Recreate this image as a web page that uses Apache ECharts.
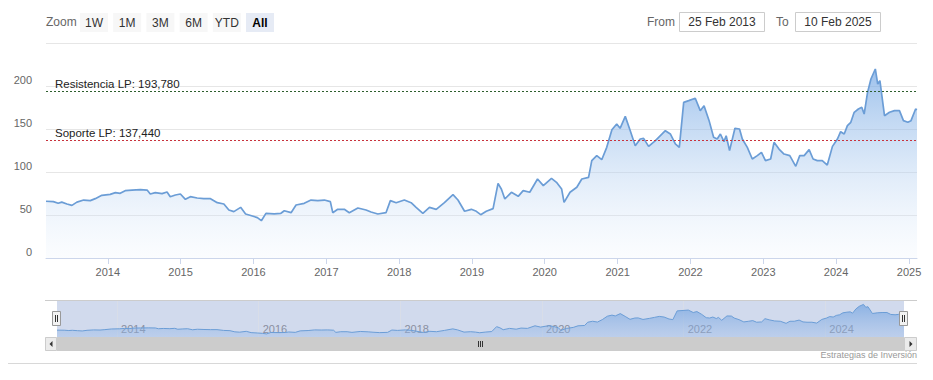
<!DOCTYPE html>
<html>
<head>
<meta charset="utf-8">
<script src="https://cdn.jsdelivr.net/npm/echarts@6/dist/echarts.min.js"></script>
<style>
html,body{margin:0;padding:0;background:#fff;}
#chart{width:933px;height:380px;}
</style>
</head>
<body>
<div id="chart"></div>
<script>
// ---- data ----
const dates = [
'2013-02-25','2013-04-03','2013-04-27','2013-05-15','2013-06-10','2013-07-05','2013-07-30','2013-09-02','2013-10-05','2013-10-30','2013-12-02',
'2014-01-13','2014-02-08','2014-03-04','2014-03-29','2014-05-02','2014-06-13','2014-07-17','2014-08-02','2014-08-27','2014-09-30','2014-10-25','2014-11-10','2014-12-06','2014-12-31',
'2015-01-25','2015-02-19','2015-03-25','2015-04-27','2015-05-31','2015-07-04','2015-08-06','2015-08-31','2015-09-25','2015-10-29','2015-11-23','2015-12-27',
'2016-01-21','2016-02-10','2016-03-04','2016-04-14','2016-05-18','2016-06-04','2016-07-08','2016-08-02','2016-09-12','2016-10-16','2016-11-19','2016-12-22',
'2017-01-21','2017-02-02','2017-02-27','2017-04-01','2017-04-26','2017-06-08','2017-07-19','2017-08-13','2017-09-16','2017-10-27','2017-11-18','2017-12-17',
'2018-01-27','2018-03-02','2018-03-27','2018-04-30','2018-06-02','2018-07-06','2018-08-16','2018-09-28','2018-10-23','2018-11-25','2018-12-29',
'2019-01-23','2019-02-14','2019-03-14','2019-04-17','2019-05-12','2019-05-29','2019-06-15','2019-07-18','2019-08-21','2019-09-15','2019-10-18','2019-11-26','2019-12-25',
'2020-02-04','2020-02-29','2020-03-26','2020-04-07','2020-05-07','2020-06-10','2020-07-05','2020-08-08','2020-08-24','2020-09-18','2020-10-13','2020-11-07','2020-12-03','2020-12-27',
'2021-01-13','2021-02-08','2021-03-05','2021-03-30','2021-04-24','2021-05-11','2021-06-05','2021-07-09','2021-08-03','2021-08-28','2021-09-22','2021-10-17','2021-11-06','2021-11-28','2021-12-23',
'2022-01-25','2022-02-19','2022-03-10','2022-04-04','2022-04-27','2022-05-15','2022-05-31','2022-06-18','2022-06-29','2022-07-16','2022-08-12','2022-09-04','2022-09-18','2022-10-13','2022-11-07','2022-12-02','2022-12-23',
'2023-01-12','2023-02-07','2023-02-24','2023-03-21','2023-04-15','2023-05-14','2023-06-13','2023-07-03','2023-07-25','2023-08-19','2023-09-08','2023-09-29','2023-10-24','2023-11-18','2023-12-14',
'2024-01-08','2024-01-24','2024-02-11','2024-02-27','2024-03-15','2024-04-01','2024-04-22','2024-05-09','2024-05-21','2024-06-07','2024-06-24','2024-07-16','2024-07-28','2024-08-08','2024-08-31','2024-09-25','2024-10-20','2024-11-14','2024-12-04','2024-12-26',
'2025-01-11','2025-02-03','2025-02-10'
];
const values = [
66,65.5,63.6,65,62.8,61.2,65,67.4,66.7,69,72.9,
74,76,75.2,78.3,79,79.5,79,74.4,76,74.8,76.7,71.3,73.3,74.4,
68.2,71.3,69.8,69,69,64.3,62.8,55.8,53.9,58.9,51.2,48.8,
46.9,43.4,51.9,51.2,52,55,52.7,61.6,63.6,67.4,66.7,67.4,
65.5,52.7,56.6,56.6,52.7,58.1,55.8,53.5,51.2,52.7,66.7,64.3,
67.4,64.3,58.9,52,58.9,56.6,64.3,73.6,67.4,54.3,56.6,
54.3,50.4,54.3,57.4,86.8,80,68.6,76.4,71.7,78.3,76.4,91.9,84.1,
92.6,88,80.2,64.7,76.4,82.2,91.9,93.8,113.2,119,114.3,128.7,149.2,155.8,
150.8,164.7,148,130.6,138.4,139.1,129.8,136.4,142.2,148,144.2,132.6,128.7,181,183,
185.7,171.3,177,160,140.3,138.4,144.2,135.3,142.2,124.8,150.8,150,138.4,128.7,115.1,119,122.9,
113.2,115.1,134.5,126.7,120.9,119,106.6,119,119,126,115.1,113.2,113.2,108.1,129.8,
138.4,146.9,144.2,153.9,157.8,169.4,173.3,175.2,167.4,192.6,208.1,219.8,202.3,206.2,165.5,169.4,171.3,171.3,159.7,157.8,
159.7,173.3,172.5
];
const resistanceLabel = 'Resistencia LP: 193,780';
const resistanceValue = 193.78;
const supportLabel = 'Soporte LP: 137,440';
const supportValue = 137.44;
const xYearTicks = [2014,2015,2016,2017,2018,2019,2020,2021,2022,2023,2024,2025];
const navYearTicks = [2014,2016,2018,2020,2022,2024];
const rangeButtons = ['1W','1M','3M','6M','YTD','All'];
const selectedButton = 'All';
const fromDate = '25 Feb 2013';
const toDate = '10 Feb 2025';
const creditText = 'Estrategias de Inversión';
const startDate = '2013-02-25';
const endDate = '2025-02-10';

// ---- chart ----
const FONT = '"Liberation Sans", Arial, sans-serif';
const chart = echarts.init(document.getElementById('chart'), null, {renderer: 'svg'});
const ts = d => new Date(d + 'T00:00:00').getTime();
const yearTs = y => new Date(y, 0, 1).getTime();
const seriesData = dates.map((d, i) => [ts(d), values[i]]);
const yearFmt = v => String(new Date(v).getFullYear());

const graphics = [];
// range selector
graphics.push({type: 'text', x: 46, y: 22, style: {text: 'Zoom', fill: '#666', font: '12px ' + FONT, verticalAlign: 'middle'}});
rangeButtons.forEach((b, i) => {
  const x = 80 + i * 33.2;
  const sel = b === selectedButton;
  graphics.push({type: 'rect', shape: {x: x, y: 13, width: 28, height: 19},
    style: {fill: sel ? '#e6ebf5' : '#f7f7f7'}});
  graphics.push({type: 'text', x: x + 14, y: 22.5,
    style: {text: b, fill: sel ? '#000' : '#333', font: (sel ? 'bold ' : '') + '12px ' + FONT, align: 'center', verticalAlign: 'middle'}});
});
graphics.push({type: 'text', x: 647, y: 22, style: {text: 'From', fill: '#666', font: '12px ' + FONT, verticalAlign: 'middle'}});
graphics.push({type: 'rect', shape: {x: 679.5, y: 12.5, width: 85, height: 19}, style: {fill: '#fff', stroke: '#cccccc', lineWidth: 1}});
graphics.push({type: 'text', x: 722, y: 22, style: {text: fromDate, fill: '#333', font: '12px ' + FONT, align: 'center', verticalAlign: 'middle'}});
graphics.push({type: 'text', x: 776, y: 22, style: {text: 'To', fill: '#666', font: '12px ' + FONT, verticalAlign: 'middle'}});
graphics.push({type: 'rect', shape: {x: 795.5, y: 12.5, width: 85, height: 19}, style: {fill: '#fff', stroke: '#cccccc', lineWidth: 1}});
graphics.push({type: 'text', x: 838, y: 22, style: {text: toDate, fill: '#333', font: '12px ' + FONT, align: 'center', verticalAlign: 'middle'}});

// navigator mask + outline
graphics.push({type: 'rect', z: -1, shape: {x: 57, y: 301, width: 847, height: 36}, style: {fill: 'rgba(102,133,194,0.3)'}});
graphics.push({type: 'line', z: 10, shape: {x1: 45, y1: 300.5, x2: 917, y2: 300.5}, style: {stroke: '#cccccc', lineWidth: 1}});
// handles
[57, 904].forEach(cx => {
  graphics.push({type: 'rect', z: 20, shape: {x: cx - 4.5, y: 311.5, width: 8, height: 14}, style: {fill: '#f2f2f2', stroke: '#999', lineWidth: 1}});
  graphics.push({type: 'line', z: 21, shape: {x1: cx - 1.5, y1: 315, x2: cx - 1.5, y2: 322}, style: {stroke: '#333', lineWidth: 1}});
  graphics.push({type: 'line', z: 21, shape: {x1: cx + 0.5, y1: 315, x2: cx + 0.5, y2: 322}, style: {stroke: '#333', lineWidth: 1}});
});
// scrollbar
graphics.push({type: 'rect', z: 5, shape: {x: 45, y: 337, width: 872, height: 14}, style: {fill: '#f2f2f2'}});
graphics.push({type: 'rect', z: 6, shape: {x: 57, y: 337, width: 847, height: 14}, style: {fill: '#cccccc'}});
graphics.push({type: 'rect', z: 6, shape: {x: 45.5, y: 337.5, width: 11, height: 13}, style: {fill: '#ebebeb', stroke: '#cccccc', lineWidth: 1}});
graphics.push({type: 'rect', z: 6, shape: {x: 904.5, y: 337.5, width: 12, height: 13}, style: {fill: '#ebebeb', stroke: '#cccccc', lineWidth: 1}});
graphics.push({type: 'polygon', z: 7, shape: {points: [[52.5, 341], [52.5, 347], [49.5, 344]]}, style: {fill: '#333'}});
graphics.push({type: 'polygon', z: 7, shape: {points: [[909.5, 341], [909.5, 347], [912.5, 344]]}, style: {fill: '#333'}});
[-2, 0, 2].forEach(d => {
  graphics.push({type: 'line', z: 7, shape: {x1: 480.5 + d, y1: 341, x2: 480.5 + d, y2: 347}, style: {stroke: '#333', lineWidth: 1}});
});
// credits + bottom line
graphics.push({type: 'text', x: 917, y: 355, style: {text: creditText, fill: '#999', font: '9px ' + FONT, align: 'right', verticalAlign: 'middle'}});
graphics.push({type: 'line', shape: {x1: 8, y1: 363.5, x2: 917, y2: 363.5}, style: {stroke: '#d8d8d8', lineWidth: 1}});

const option = {
  animation: false,
  textStyle: {fontFamily: FONT},
  grid: [
    {left: 46, right: 16, top: 43, height: 215},
    {left: 57, right: 29, top: 301, height: 36}
  ],
  xAxis: [
    {
      type: 'value', gridIndex: 0, min: ts(startDate), max: ts(endDate), scale: true,
      axisLine: {lineStyle: {color: '#ccd6eb'}},
      axisTick: {show: true, length: 6, lineStyle: {color: '#ccd6eb'}, customValues: xYearTicks.map(yearTs)},
      axisLabel: {color: '#666', fontSize: 11, margin: 8, customValues: xYearTicks.map(yearTs), formatter: yearFmt},
      splitLine: {show: false}
    },
    {
      type: 'value', gridIndex: 1, min: ts(startDate), max: ts(endDate), scale: true,
      axisLine: {show: false},
      axisTick: {show: false, customValues: navYearTicks.map(yearTs)},
      axisLabel: {inside: true, color: '#8a8fa0', fontSize: 11, align: 'left', margin: 3, padding: [0, 0, 0, 4],
        customValues: navYearTicks.map(yearTs), formatter: yearFmt},
      splitLine: {show: true, lineStyle: {color: '#d8dde8', width: 1}}
    }
  ],
  yAxis: [
    {
      type: 'value', gridIndex: 0, min: 0, max: 250, interval: 50,
      axisLine: {show: false}, axisTick: {show: false},
      axisLabel: {color: '#666', fontSize: 11, margin: 14, verticalAlign: 'bottom', lineHeight: 12,
        formatter: v => (v === 250 ? '' : String(v))},
      splitLine: {lineStyle: {color: '#e6e6e6', width: 1}}
    },
    {type: 'value', gridIndex: 1, min: 25, max: 240, show: false}
  ],
  series: [
    {
      type: 'line', xAxisIndex: 0, yAxisIndex: 0, data: seriesData,
      showSymbol: false, symbol: 'none',
      lineStyle: {color: '#6b9dd6', width: 1.7},
      areaStyle: {color: new echarts.graphic.LinearGradient(0, 0, 0, 1, [
        {offset: 0, color: 'rgba(108,162,226,0.95)'},
        {offset: 1, color: 'rgba(235,243,252,0.3)'}
      ])},
      markLine: {
        silent: true, symbol: 'none',
        data: [
          {yAxis: resistanceValue, lineStyle: {color: '#2e5e2e', type: [2, 2], width: 1},
            label: {formatter: resistanceLabel}},
          {yAxis: supportValue, lineStyle: {color: '#c8323c', type: [2, 2], width: 1},
            label: {formatter: supportLabel}}
        ],
        label: {position: 'insideStartTop', color: '#222', fontSize: 11.5, distance: [9, 1], fontFamily: FONT}
      }
    },
    {
      type: 'line', xAxisIndex: 1, yAxisIndex: 1, data: seriesData,
      showSymbol: false, symbol: 'none',
      lineStyle: {color: '#6b9dd6', width: 1},
      areaStyle: {color: new echarts.graphic.LinearGradient(0, 0, 0, 1, [
        {offset: 0, color: 'rgba(100,155,222,0.9)'},
        {offset: 1, color: 'rgba(150,185,232,0.5)'}
      ])}
    }
  ],
  graphic: graphics
};
chart.setOption(option);
</script>
</body>
</html>
